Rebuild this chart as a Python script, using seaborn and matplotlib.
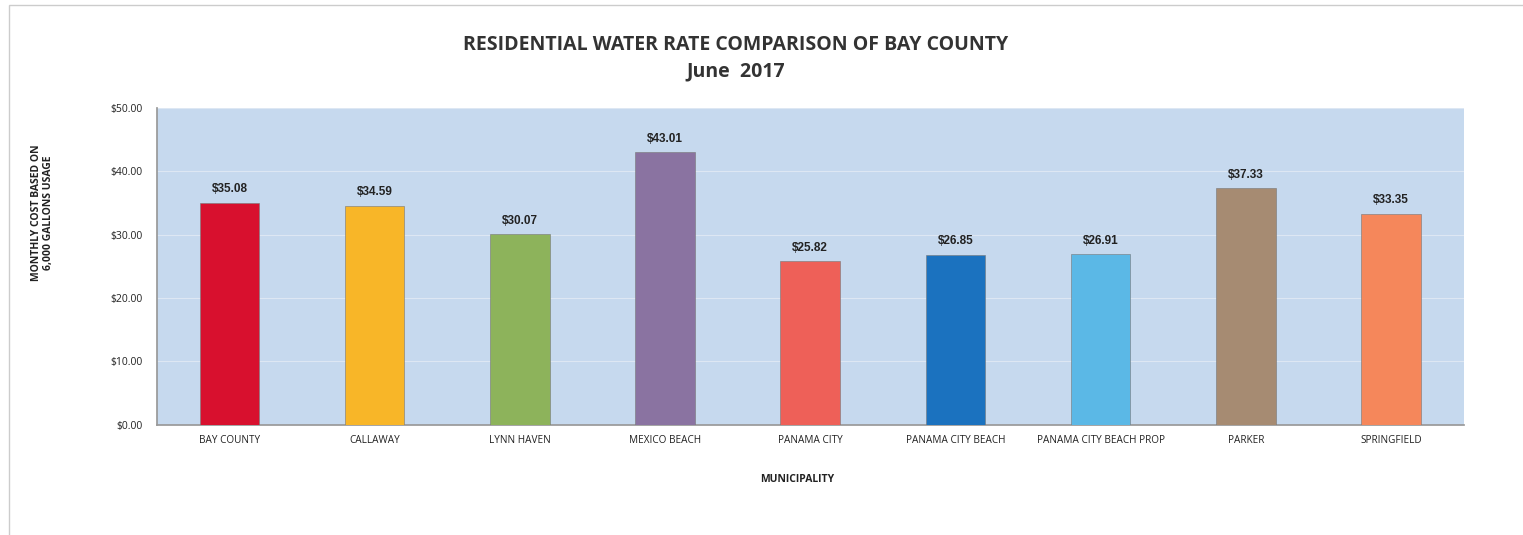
# water_rate_comparison.py
# Bar chart of monthly residential water cost across Bay County municipalities

import matplotlib
matplotlib.use("Agg")
import matplotlib.pyplot as plt
import seaborn as sns
import pandas as pd
from matplotlib.patches import Rectangle

municipalities = ["BAY COUNTY", "CALLAWAY", "LYNN HAVEN", "MEXICO BEACH",
                  "PANAMA CITY", "PANAMA CITY BEACH", "PANAMA CITY BEACH PROP",
                  "PARKER", "SPRINGFIELD"]
monthly_cost = [35.08, 34.59, 30.07, 43.01, 25.82, 26.85, 26.91, 37.33, 33.35]
bar_colors = ["#d8102e", "#f8b628", "#8db35b", "#8a73a1", "#ee6058",
              "#1b72bf", "#5bb8e6", "#a68b72", "#f5875b"]
y_ticks = [0, 10, 20, 30, 40, 50]

df = pd.DataFrame({"municipality": municipalities, "cost": monthly_cost})

sns.set_theme(style="white")
plt.rcParams["font.family"] = ["Open Sans", "DejaVu Sans"]

fig = plt.figure(figsize=(15.23, 5.35), dpi=100)
ax = fig.add_axes([0.103, 0.206, 0.858, 0.592])
ax.set_facecolor("#c6d9ee")

sns.barplot(data=df, x="municipality", y="cost", hue="municipality",
            palette=bar_colors, legend=False, width=0.41, saturation=1,
            ax=ax, edgecolor="#777777", linewidth=0.4, zorder=3)

ax.set_ylim(0, 50)
ax.set_yticks(y_ticks)
ax.set_yticklabels([f"${v:.2f}" for v in y_ticks], fontsize=7.5, color="#222222")
ax.tick_params(axis="x", labelsize=7.2, colors="#222222", length=0, pad=7)
ax.tick_params(axis="y", length=0, pad=10)
ax.yaxis.grid(True, color="#dde7f3", linewidth=0.8, zorder=0)
ax.set_axisbelow(True)
for side in ["top", "right"]:
    ax.spines[side].set_visible(False)
ax.spines["left"].set_color("#999999")
ax.spines["bottom"].set_color("#999999")

for i, v in enumerate(monthly_cost):
    ax.text(i, v + 1.2, f"${v:.2f}", ha="center", va="bottom",
            fontsize=8.5, fontweight="bold", color="#222222",
            family=["Liberation Sans", "DejaVu Sans"])

ax.set_xlabel("MUNICIPALITY", fontsize=7.5, fontweight="bold", color="#222222")
ax.xaxis.set_label_coords(0.49, -0.155)
ax.set_ylabel("MONTHLY COST BASED ON\n6,000 GALLONS USAGE", fontsize=7.5,
              fontweight="bold", color="#222222", linespacing=1.1)
ax.yaxis.set_label_coords(-0.079, 0.67)

fig.text(0.483, 0.915, "RESIDENTIAL WATER RATE COMPARISON OF BAY COUNTY",
         ha="center", va="center", fontsize=14, fontweight="bold", color="#333333")
fig.text(0.483, 0.866, "June  2017", ha="center", va="center",
         fontsize=14, fontweight="bold", color="#333333")

# faint outer chart frame like the original screenshot
fig.patches.append(Rectangle((0.006, -0.05), 1.2, 1.04, transform=fig.transFigure,
                             fill=False, edgecolor="#cccccc", linewidth=1.0))

fig.savefig("out.png", dpi=100)
